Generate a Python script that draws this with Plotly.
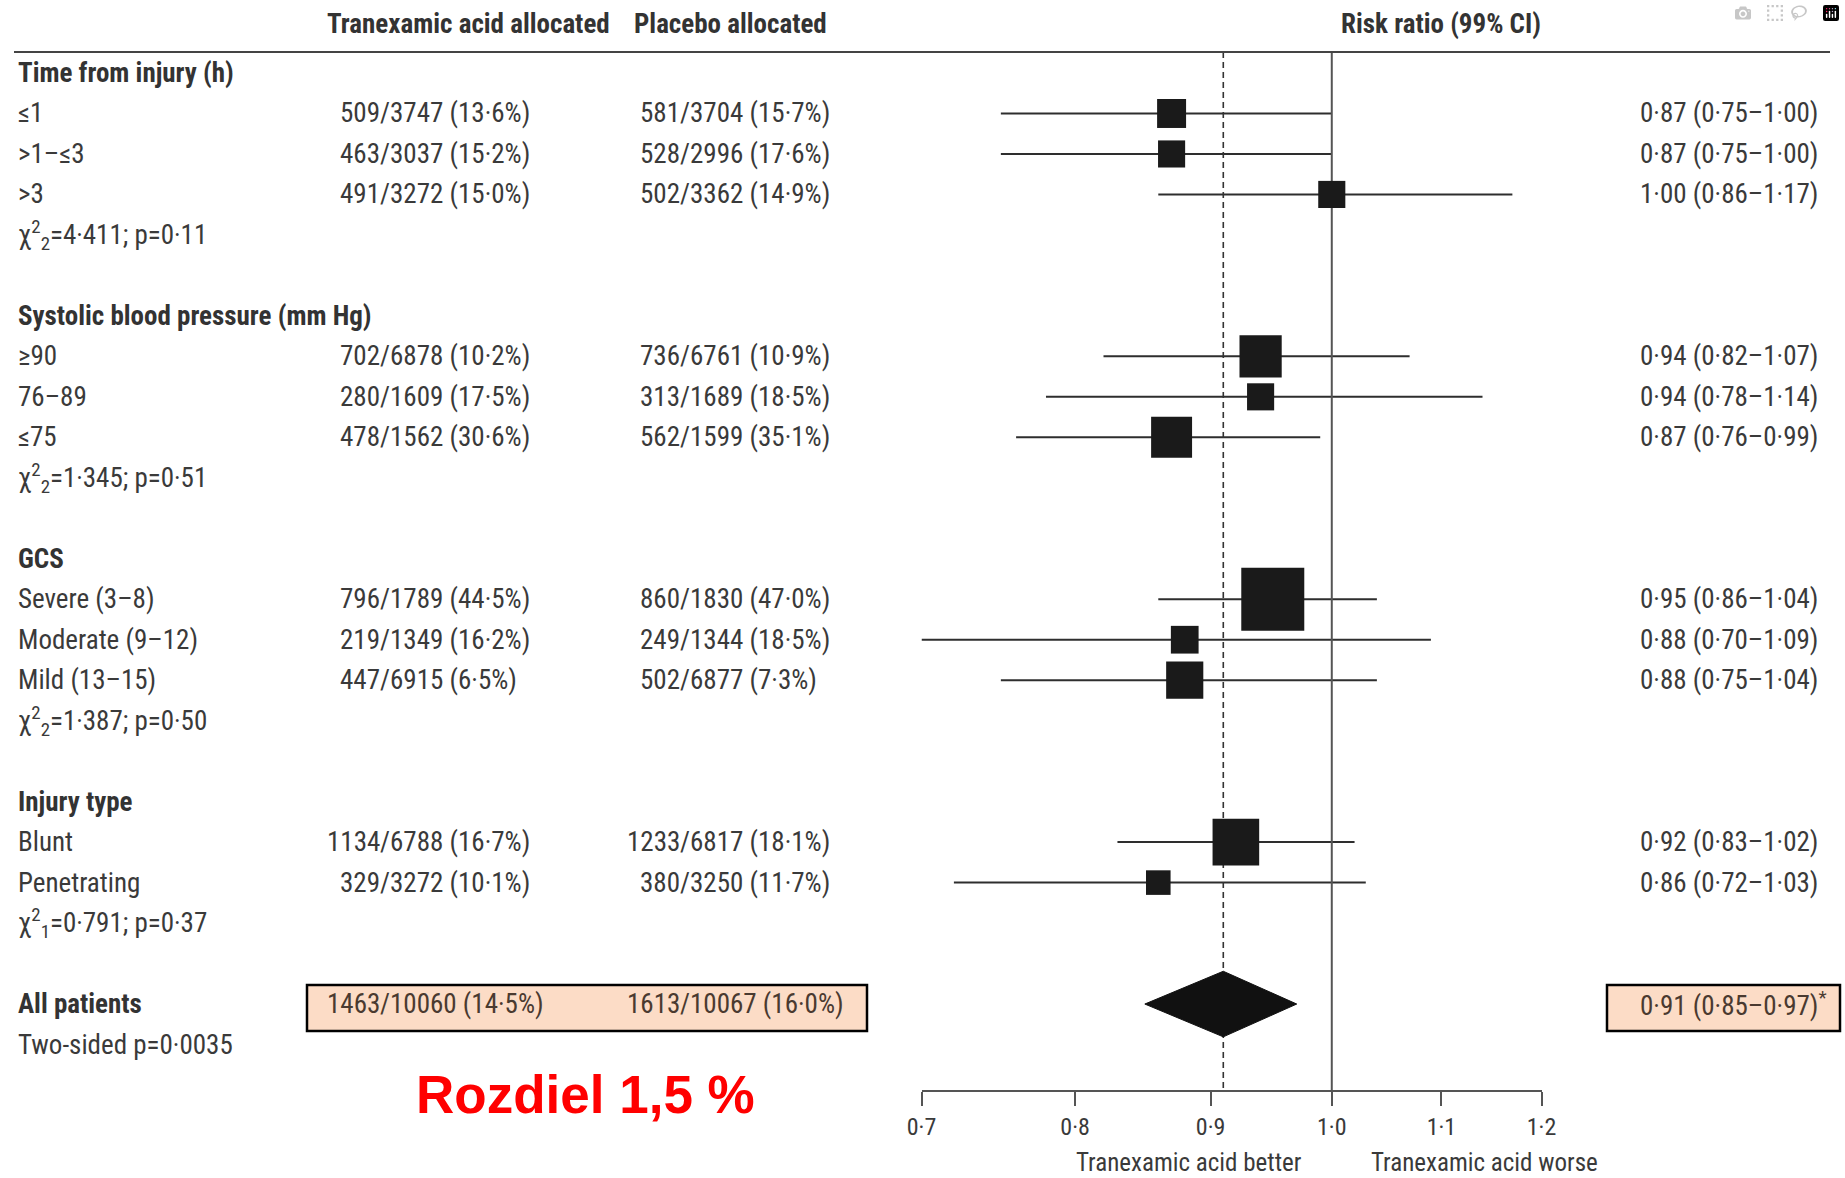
import math
import plotly.graph_objects as go

# ---------------- data ----------------
group_titles = ["Time from injury (h)", "Systolic blood pressure (mm Hg)", "GCS", "Injury type"]
group_sizes = [3, 3, 3, 2]
subgroup_labels = ["≤1", ">1–≤3", ">3",
                   "≥90", "76–89", "≤75",
                   "Severe (3–8)", "Moderate (9–12)", "Mild (13–15)",
                   "Blunt", "Penetrating"]
events_txa = [509, 463, 491, 702, 280, 478, 796, 219, 447, 1134, 329]
n_txa = [3747, 3037, 3272, 6878, 1609, 1562, 1789, 1349, 6915, 6788, 3272]
pct_txa = [13.6, 15.2, 15.0, 10.2, 17.5, 30.6, 44.5, 16.2, 6.5, 16.7, 10.1]
events_pbo = [581, 528, 502, 736, 313, 562, 860, 249, 502, 1233, 380]
n_pbo = [3704, 2996, 3362, 6761, 1689, 1599, 1830, 1344, 6877, 6817, 3250]
pct_pbo = [15.7, 17.6, 14.9, 10.9, 18.5, 35.1, 47.0, 18.5, 7.3, 18.1, 11.7]
rr = [0.87, 0.87, 1.00, 0.94, 0.94, 0.87, 0.95, 0.88, 0.88, 0.92, 0.86]
rr_lo = [0.75, 0.75, 0.86, 0.82, 0.78, 0.76, 0.86, 0.70, 0.75, 0.83, 0.72]
rr_hi = [1.00, 1.00, 1.17, 1.07, 1.14, 0.99, 1.04, 1.09, 1.04, 1.02, 1.03]
rel_weight = [46, 43, 43, 67, 43, 65, 100, 44, 59, 74, 39]   # relative box weight (largest = 100)
chi_df = [2, 2, 2, 1]
chi_val = [4.411, 1.345, 1.387, 0.791]
chi_p = [0.11, 0.51, 0.50, 0.37]

all_label = "All patients"
all_events_txa, all_n_txa, all_pct_txa = 1463, 10060, 14.5
all_events_pbo, all_n_pbo, all_pct_pbo = 1613, 10067, 16.0
all_rr, all_lo, all_hi = 0.91, 0.85, 0.97
p_two_sided = 0.0035

tick_vals = [0.7, 0.8, 0.9, 1.0, 1.1, 1.2]
col_headers = ["Tranexamic acid allocated", "Placebo allocated", "Risk ratio (99% CI)"]
axis_notes = ["Tranexamic acid better", "Tranexamic acid worse"]
note_text = "Rozdiel 1,5 %"

# ---------------- helpers / layout constants ----------------
W, H = 1845, 1178
ROW0, ROWH = 73.0, 40.48


def ry(px):
    return (px - ROW0) / ROWH


def fmt(v, nd):
    return f"{v:.{nd}f}".replace(".", "·")


FONT = "Liberation Sans Narrow, Roboto Condensed, Arial Narrow, Liberation Sans, sans-serif"
TXT = "#3a3a3a"
FS = 27

# row indices
data_rows, chi_rows, title_rows = [], [], []
r = 0
for g, size in enumerate(group_sizes):
    title_rows.append(r)
    r += 1
    for _ in range(size):
        data_rows.append(r)
        r += 1
    chi_rows.append(r)
    r += 2
all_row = r
p_row = r + 1

fig = go.Figure()

# CI lines
xs, ys = [], []
for lo, hi, rw in zip(rr_lo, rr_hi, data_rows):
    xs += [lo, hi, None]
    ys += [rw, rw, None]
fig.add_trace(go.Scatter(x=xs, y=ys, mode="lines", line=dict(color="#2e2e2e", width=2),
                         hoverinfo="skip", showlegend=False))

# reference lines (1.0 solid, pooled estimate dashed)
y_top, y_bot = ry(52), ry(1091)
fig.add_trace(go.Scatter(x=[1.0, 1.0], y=[y_top, y_bot], mode="lines",
                         line=dict(color="#555555", width=2), hoverinfo="skip", showlegend=False))
fig.add_trace(go.Scatter(x=[all_rr, all_rr], y=[y_top, y_bot], mode="lines",
                         line=dict(color="#333333", width=1.6, dash="6px,4px"),
                         hoverinfo="skip", showlegend=False))

# squares
fig.add_trace(go.Scatter(x=rr, y=data_rows, mode="markers",
                         marker=dict(symbol="square", color="#1a1a1a", opacity=1,
                                     size=[w / 100 * 63 for w in rel_weight],
                                     line=dict(width=0)),
                         hoverinfo="skip", showlegend=False))

# diamond
hh = 0.81
fig.add_trace(go.Scatter(x=[all_lo, all_rr, all_hi, all_rr, all_lo],
                         y=[all_row, all_row - hh, all_row, all_row + hh, all_row],
                         mode="lines", fill="toself", fillcolor="#111111",
                         line=dict(color="#111111", width=1), hoverinfo="skip", showlegend=False))

ann = []


def text(xpx, row, s, anchor="left", bold=False, size=FS, color=TXT, family=FONT, xshift=0):
    if bold:
        s = f"<b>{s}</b>"
    ann.append(dict(x=xpx / W, xref="paper", y=row, yref="y", text=s, showarrow=False,
                    xanchor=anchor, yanchor="middle", xshift=xshift, borderpad=0,
                    font=dict(family=family, size=size, color=color)))


LX = 17
S1, S2, RX = 380, 680, 1639

# headers
hy = ry(24)
text(468, hy, col_headers[0], "center", bold=True, color="#333")
text(730, hy, col_headers[1], "center", bold=True, color="#333")
text(1441, hy, col_headers[2], "center", bold=True, color="#333")

for g, title in enumerate(group_titles):
    text(LX, title_rows[g], title, bold=True, color="#333")
    text(LX, chi_rows[g],
         f"χ<sup>2</sup><sub>{chi_df[g]}</sub>=" + fmt(chi_val[g], 3) + "; p=" + fmt(chi_p[g], 2))

for i, rw in enumerate(data_rows):
    text(LX, rw, subgroup_labels[i])
    text(S1, rw, f"{events_txa[i]}", "right", xshift=1)
    text(S1, rw, f"/{n_txa[i]} ({fmt(pct_txa[i], 1)}%)", "left", xshift=-1)
    text(S2, rw, f"{events_pbo[i]}", "right", xshift=1)
    text(S2, rw, f"/{n_pbo[i]} ({fmt(pct_pbo[i], 1)}%)", "left", xshift=-1)
    text(RX, rw, f"{fmt(rr[i], 2)} ({fmt(rr_lo[i], 2)}–{fmt(rr_hi[i], 2)})")

BOXTXT = "#4a3a30"
text(LX, all_row, all_label, bold=True, color="#333")
text(LX, p_row, "Two-sided p=" + fmt(p_two_sided, 4))
text(S1, all_row, f"{all_events_txa}", "right", color=BOXTXT, xshift=1)
text(S1, all_row, f"/{all_n_txa} ({fmt(all_pct_txa, 1)}%)", "left", color=BOXTXT, xshift=-1)
text(S2, all_row, f"{all_events_pbo}", "right", color=BOXTXT, xshift=1)
text(S2, all_row, f"/{all_n_pbo} ({fmt(all_pct_pbo, 1)}%)", "left", color=BOXTXT, xshift=-1)
text(RX, all_row, f"{fmt(all_rr, 2)} ({fmt(all_lo, 2)}–{fmt(all_hi, 2)})<sup>*</sup>", color=BOXTXT)

# axis notes
text(1189, ry(1162), axis_notes[0], "center", size=25)
text(1484, ry(1162), axis_notes[1], "center", size=25)

# red note
text(585, ry(1094), note_text, "center", bold=True, size=53, color="#ff0000",
     family="Liberation Sans, Arial, sans-serif")

shapes = [
    dict(type="line", xref="paper", yref="paper", x0=14 / W, x1=1830 / W,
         y0=1 - 52 / H, y1=1 - 52 / H, line=dict(color="#444444", width=2)),
    dict(type="rect", xref="paper", yref="paper", x0=307 / W, x1=867 / W,
         y0=1 - 1031 / H, y1=1 - 985 / H, fillcolor="#fcdcc6",
         line=dict(color="#000000", width=2.5), layer="below"),
    dict(type="rect", xref="paper", yref="paper", x0=1607 / W, x1=1840 / W,
         y0=1 - 1031 / H, y1=1 - 985 / H, fillcolor="#fcdcc6",
         line=dict(color="#000000", width=2.5), layer="below"),
]

fig.update_layout(
    width=W, height=H, margin=dict(l=0, r=0, t=0, b=0, autoexpand=False),
    paper_bgcolor="white", plot_bgcolor="rgba(0,0,0,0)",
    showlegend=False, annotations=ann, shapes=shapes,
    xaxis=dict(type="log", range=[math.log10(tick_vals[0]), math.log10(tick_vals[-1])],
               domain=[921.5 / W, 1541.5 / W], anchor="free", position=1 - 1091 / H,
               showgrid=False, zeroline=False, showline=True, linecolor="#555555", linewidth=2,
               ticks="outside", ticklen=14, tickwidth=2, tickcolor="#555555",
               tickvals=tick_vals, ticktext=[fmt(v, 1) for v in tick_vals],
               tickfont=dict(family=FONT, size=24, color=TXT), ticklabelstandoff=0,
               automargin=False, fixedrange=True),
    yaxis=dict(range=[ry(H), ry(0)], domain=[0, 1], visible=False, fixedrange=True,
               automargin=False),
)

fig.write_html("out.html", post_script="document.body.style.margin='0';")
